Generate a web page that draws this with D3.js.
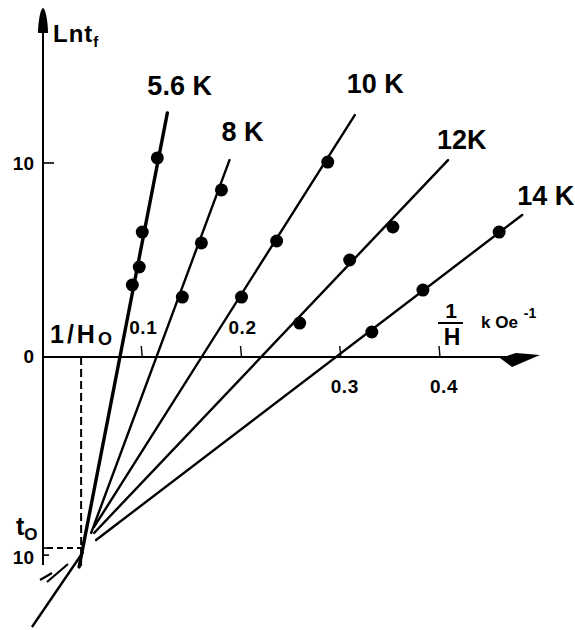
<!DOCTYPE html>
<html>
<head>
<meta charset="utf-8">
<script src="https://cdn.jsdelivr.net/npm/d3@7"></script>
<style>
  html, body { margin: 0; padding: 0; background: #fff; }
  svg { display: block; font-family: 'Liberation Sans', Arial, sans-serif; }
</style>
</head>
<body>
<div id="chart"></div>
<script>
// Field-dependence of the freezing time: ln t_f against 1/H (kOe^-1)
const temps = ['5.6 K', '8 K', '10 K', '12K', '14 K'];

// fitted lines, [1/H, ln t_f] at each end
const lineFrom = [[0.0364, -10.82], [0.0485, -9.07], [0.0515, -8.76], [0.0515, -9.07], [0.0535, -9.43]];
const lineTo = [[0.1253, 12.58], [0.1879, 10.15], [0.3141, 12.47], [0.4081, 10.15], [0.4828, 7.32]];

// measured points per temperature
const pts56 = [[0.1152, 10.26], [0.1000, 6.44], [0.0970, 4.64], [0.0900, 3.71]];
const pts8 = [[0.1798, 8.61], [0.1596, 5.88], [0.1404, 3.09]];
const pts10 = [[0.2869, 10.05], [0.2354, 5.98], [0.2000, 3.09]];
const pts12 = [[0.3525, 6.70], [0.3090, 5.00], [0.2586, 1.75]];
const pts14 = [[0.4596, 6.44], [0.3828, 3.45], [0.3313, 1.29]];
const points = [pts56, pts8, pts10, pts12, pts14];

// extension below the common point
const tail = [[0.0404, -10.05], [-0.0111, -13.92]];

const invH0 = 0.0384;
const lnT0 = -9.85;
const xTicks = [0.1, 0.2, 0.3, 0.4];
const xTickLabels = ['0.1', '0.2', '0.3', '0.4'];
const yTicks = [10, 0];

const width = 575, height = 630;
const x = d3.scaleLinear().domain([0, 0.4]).range([43, 440]);
const y = d3.scaleLinear().domain([-10, 10]).range([551, 163]);

const svg = d3.select('#chart').append('svg')
  .attr('width', width)
  .attr('height', height);

const ink = '#000';

// axes
svg.append('line')
  .attr('x1', x(0)).attr('x2', x(0))
  .attr('y1', 30).attr('y2', 565)
  .attr('stroke', ink).attr('stroke-width', 2);
svg.append('path')
  .attr('d', `M${x(0)},8 C${x(0) + 3},9 ${x(0) + 5},24 ${x(0) + 5},33 L${x(0) - 5},33 C${x(0) - 5},24 ${x(0) - 3},9 ${x(0)},8 Z`)
  .attr('fill', ink);

svg.append('line')
  .attr('x1', x(0)).attr('x2', 512)
  .attr('y1', y(0)).attr('y2', y(0))
  .attr('stroke', ink).attr('stroke-width', 2.2);
svg.append('path')
  .attr('d', `M500,${y(0) + 1} L516,${y(0) - 4} L540,${y(0) - 2} L512,${y(0) + 10} Z`)
  .attr('fill', ink);

// x ticks point upward
svg.selectAll('.xtick')
  .data(xTicks)
  .join('line')
  .attr('class', 'xtick')
  .attr('x1', d => x(d)).attr('x2', d => x(d) - 1)
  .attr('y1', y(0)).attr('y2', y(0) - 11)
  .attr('stroke', ink).attr('stroke-width', 1.4);

svg.selectAll('.xlab')
  .data(xTicks)
  .join('text')
  .attr('class', 'xlab')
  .attr('x', (d, i) => i < 2 ? x(d) + 1 : x(d) + 4)
  .attr('y', (d, i) => i < 2 ? y(0) - 23 : y(0) + 36)
  .attr('text-anchor', 'middle')
  .attr('font-size', 19)
  .attr('font-weight', 'bold')
  .attr('letter-spacing', 0.5)
  .text((d, i) => xTickLabels[i]);

// y ticks
svg.append('line')
  .attr('x1', x(0)).attr('x2', x(0) + 11)
  .attr('y1', y(10)).attr('y2', y(10))
  .attr('stroke', ink).attr('stroke-width', 1.6);
svg.append('text')
  .attr('x', 34).attr('y', y(10) + 7)
  .attr('text-anchor', 'end')
  .attr('font-size', 19).attr('font-weight', 'bold')
  .text(yTicks[0]);
svg.append('text')
  .attr('x', 34).attr('y', y(0) + 6)
  .attr('text-anchor', 'end')
  .attr('font-size', 19).attr('font-weight', 'bold')
  .text(yTicks[1]);

// t0 level
svg.append('line')
  .attr('x1', x(0)).attr('x2', x(0) + 10)
  .attr('y1', y(lnT0)).attr('y2', y(lnT0))
  .attr('stroke', ink).attr('stroke-width', 1.6);
svg.append('line')
  .attr('x1', x(0)).attr('x2', x(0) + 6)
  .attr('y1', y(lnT0) + 7).attr('y2', y(lnT0) + 7)
  .attr('stroke', ink).attr('stroke-width', 1.6);

const t0 = svg.append('text')
  .attr('x', 16).attr('y', 535)
  .attr('font-size', 25).attr('font-weight', 'bold');
t0.append('tspan').text('t');
t0.append('tspan').attr('font-size', 17).attr('dy', 5).text('O');
svg.append('text')
  .attr('x', 34).attr('y', 564)
  .attr('text-anchor', 'end')
  .attr('font-size', 19).attr('font-weight', 'bold')
  .text('10');

// dashed guides to the common point
svg.append('line')
  .attr('x1', x(invH0)).attr('x2', x(invH0))
  .attr('y1', y(0)).attr('y2', 566)
  .attr('stroke', ink).attr('stroke-width', 2)
  .attr('stroke-dasharray', '8,4');
svg.append('line')
  .attr('x1', x(0) + 4).attr('x2', x(invH0))
  .attr('y1', y(lnT0)).attr('y2', y(lnT0))
  .attr('stroke', ink).attr('stroke-width', 2)
  .attr('stroke-dasharray', '6,4');

// fitted lines
svg.selectAll('.fit')
  .data(temps)
  .join('line')
  .attr('class', 'fit')
  .attr('x1', (d, i) => x(lineFrom[i][0]))
  .attr('y1', (d, i) => y(lineFrom[i][1]))
  .attr('x2', (d, i) => x(lineTo[i][0]))
  .attr('y2', (d, i) => y(lineTo[i][1]))
  .attr('stroke', ink)
  .attr('stroke-width', (d, i) => i === 0 ? 3.4 : 2.4)
  .attr('stroke-linecap', 'round');

svg.append('line')
  .attr('x1', x(tail[0][0])).attr('y1', y(tail[0][1]))
  .attr('x2', x(tail[1][0])).attr('y2', y(tail[1][1]))
  .attr('stroke', ink).attr('stroke-width', 2.4);

// axis break marks
svg.append('line')
  .attr('x1', 40).attr('y1', 580).attr('x2', 52).attr('y2', 573)
  .attr('stroke', ink).attr('stroke-width', 2.2);
svg.append('line')
  .attr('x1', 47).attr('y1', 582).attr('x2', 68).attr('y2', 564)
  .attr('stroke', ink).attr('stroke-width', 2.2);

// data points
points.forEach(pts => {
  svg.append('g')
    .selectAll('circle')
    .data(pts)
    .join('circle')
    .attr('cx', d => x(d[0]))
    .attr('cy', d => y(d[1]))
    .attr('r', 6.5)
    .attr('fill', ink);
});

// temperature labels, offset from the top of each line
const labelDx = [-20, -8, -8, -11, -5];
const labelDy = [-18, -19, -22, -11, -10];
svg.selectAll('.tlab')
  .data(temps)
  .join('text')
  .attr('class', 'tlab')
  .attr('x', (d, i) => x(lineTo[i][0]) + labelDx[i])
  .attr('y', (d, i) => y(lineTo[i][1]) + labelDy[i])
  .attr('font-size', 27)
  .attr('font-weight', 'bold')
  .text(d => d);

// axis titles
const yt = svg.append('text')
  .attr('x', 53).attr('y', 42)
  .attr('font-size', 24).attr('font-weight', 'bold')
  .attr('letter-spacing', 1);
yt.append('tspan').text('Lnt');
yt.append('tspan').attr('font-size', 15).attr('dy', 5).text('f');

const h0 = svg.append('text')
  .attr('x', 50).attr('y', 343)
  .attr('font-size', 25).attr('font-weight', 'bold')
  .attr('letter-spacing', 3);
h0.append('tspan').text('1/H');
h0.append('tspan').attr('font-size', 18).attr('dy', 2).text('O');

svg.append('text')
  .attr('x', 451).attr('y', 318)
  .attr('text-anchor', 'middle')
  .attr('font-size', 21).attr('font-weight', 'bold')
  .text('1');
svg.append('line')
  .attr('x1', 438).attr('x2', 463)
  .attr('y1', 323).attr('y2', 323)
  .attr('stroke', ink).attr('stroke-width', 2);
svg.append('text')
  .attr('x', 452).attr('y', 345)
  .attr('text-anchor', 'middle')
  .attr('font-size', 23).attr('font-weight', 'bold')
  .text('H');

const unit = svg.append('text')
  .attr('x', 481).attr('y', 328)
  .attr('font-size', 17).attr('font-weight', 'bold');
unit.append('tspan').text('k Oe');
unit.append('tspan').attr('dx', 6).attr('dy', -10).attr('font-size', 14).text('-1');
</script>
</body>
</html>
